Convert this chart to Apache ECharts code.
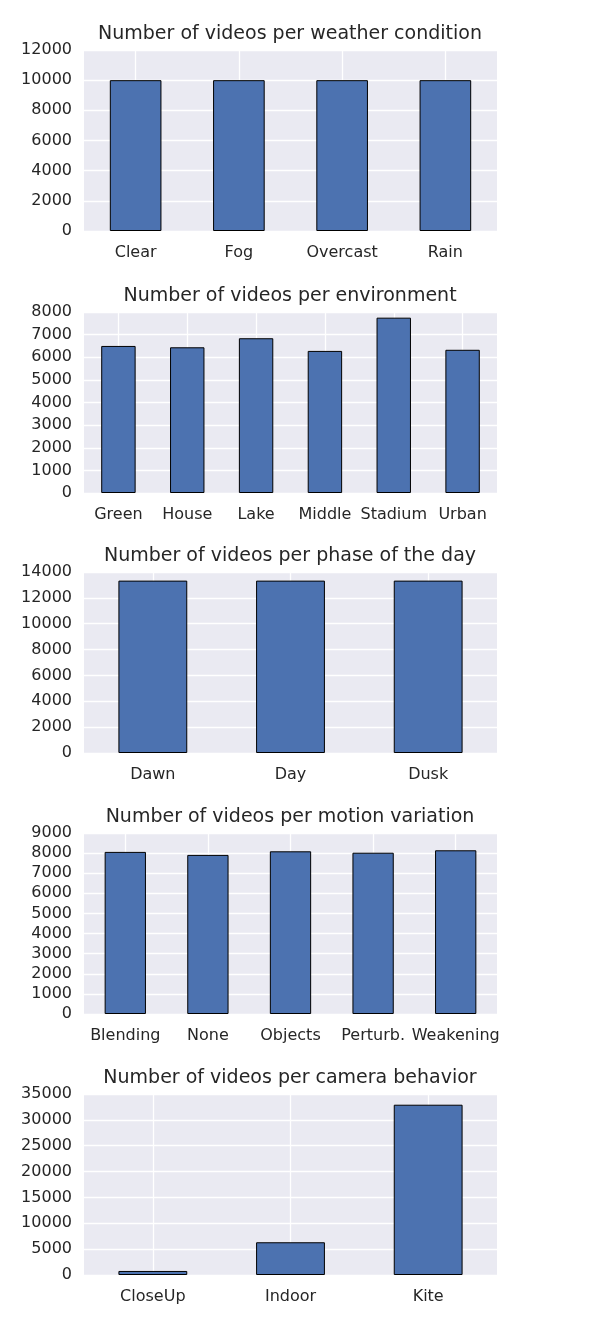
<!DOCTYPE html>
<html>
<head>
<meta charset="utf-8">
<script src="https://cdn.jsdelivr.net/npm/echarts@6/dist/echarts.min.js"></script>
<style>
html, body { margin: 0; padding: 0; background: #fff; }
#main { width: 598px; height: 1329px; }
</style>
</head>
<body>
<div id="main"></div>
<script>
// data
var weatherCats = ['Clear', 'Fog', 'Overcast', 'Rain'];
var weatherVals = [10000, 10000, 10000, 10000];

var envCats = ['Green', 'House', 'Lake', 'Middle', 'Stadium', 'Urban'];
var envVals = [6500, 6440, 6840, 6280, 7750, 6330];

var phaseCats = ['Dawn', 'Day', 'Dusk'];
var phaseVals = [13333, 13333, 13333];

var motionCats = ['Blending', 'None', 'Objects', 'Perturb.', 'Weakening'];
var motionVals = [8060, 7910, 8090, 8020, 8140];

var cameraCats = ['CloseUp', 'Indoor', 'Kite'];
var cameraVals = [780, 6330, 32930];

var titles = [
    'Number of videos per weather condition',
    'Number of videos per environment',
    'Number of videos per phase of the day',
    'Number of videos per motion variation',
    'Number of videos per camera behavior'
];
var yMax = [12000, 8000, 14000, 9000, 35000];
var yStep = [2000, 1000, 2000, 1000, 5000];

var panels = [
    {cats: weatherCats, vals: weatherVals},
    {cats: envCats, vals: envVals},
    {cats: phaseCats, vals: phaseVals},
    {cats: motionCats, vals: motionVals},
    {cats: cameraCats, vals: cameraVals}
];

var gridTops = [50, 312, 572, 833, 1094];
var textColor = '#262626';
var font = 'DejaVu Sans';

var option = {
    backgroundColor: '#fff',
    animation: false,
    title: [], grid: [], xAxis: [], yAxis: [], series: []
};

panels.forEach(function (p, i) {
    option.title.push({
        text: titles[i],
        left: 290,
        top: gridTops[i] - 25,
        textAlign: 'center',
        padding: 0,
        textStyle: {fontFamily: font, fontSize: 19, fontWeight: 'normal', color: textColor}
    });
    option.grid.push({
        left: 84, width: 413, top: gridTops[i], height: 181,
        show: true, backgroundColor: '#eaeaf2', borderWidth: 0
    });
    option.xAxis.push({
        type: 'category', gridIndex: i, data: p.cats,
        axisLine: {show: false}, axisTick: {show: false},
        axisLabel: {fontFamily: font, fontSize: 16, color: textColor, margin: 14, interval: 0},
        splitLine: {show: true, alignWithLabel: true, lineStyle: {color: '#fff', width: 1.3}}
    });
    option.yAxis.push({
        type: 'value', gridIndex: i, min: 0, max: yMax[i], interval: yStep[i],
        axisLine: {show: false}, axisTick: {show: false},
        axisLabel: {fontFamily: font, fontSize: 16, color: textColor, margin: 12,
            formatter: function (v) { return String(v); }},
        splitLine: {show: true, lineStyle: {color: '#fff', width: 1.3}}
    });
    option.series.push({
        type: 'bar', xAxisIndex: i, yAxisIndex: i, data: p.vals,
        barWidth: '50%',
        itemStyle: {color: '#4c72b0', borderColor: '#000', borderWidth: 1}
    });
});

var chart = echarts.init(document.getElementById('main'));
chart.setOption(option);
</script>
</body>
</html>
